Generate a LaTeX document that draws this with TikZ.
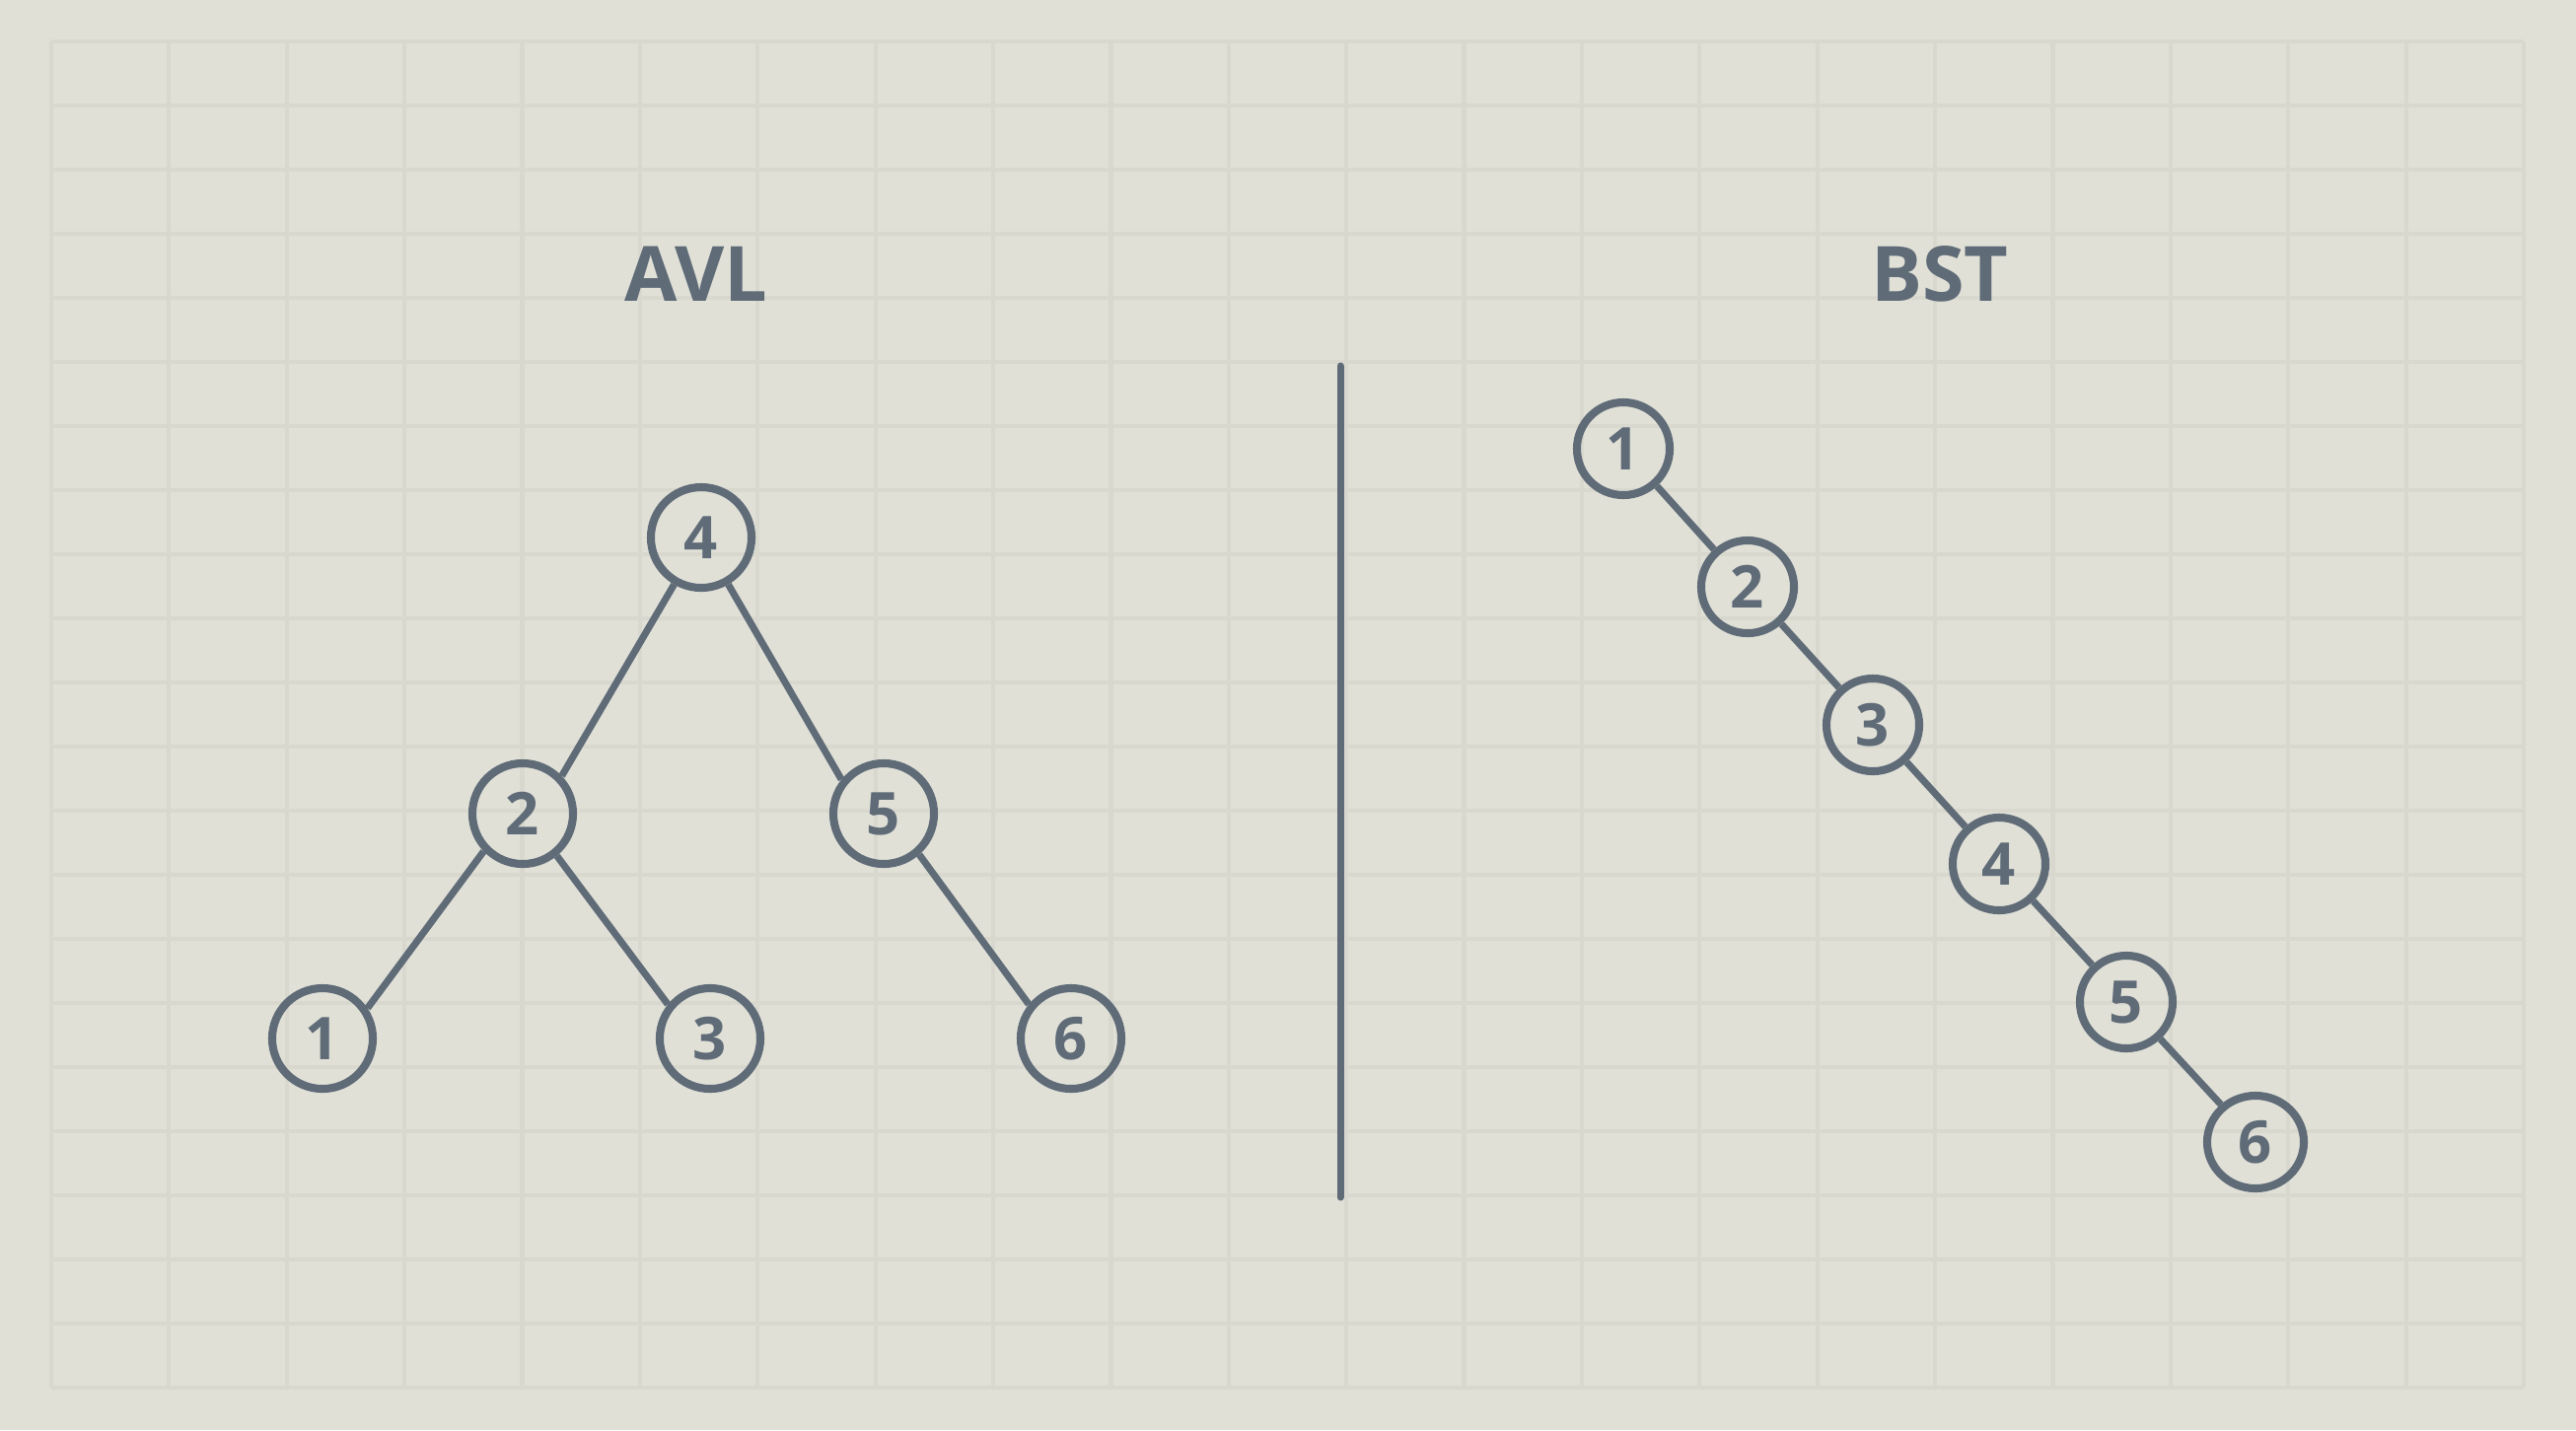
\documentclass[tikz,border=0pt]{standalone}
\usepackage{fontspec}
\setmainfont{Open Sans}
\usetikzlibrary{shapes.geometric}
\definecolor{bgc}{HTML}{E0E0D7}
\definecolor{gridc}{HTML}{D8D8CF}
\definecolor{inkc}{HTML}{5F6B77}
\tikzset{
  avlnode/.style={circle, draw=inkc, line width=2.3pt, minimum size=1.02cm, inner sep=0pt, text=inkc, font=\fontsize{17}{17}\selectfont\bfseries},
  bstnode/.style={circle, draw=inkc, line width=2.3pt, minimum size=0.94cm, inner sep=0pt, text=inkc, font=\fontsize{17}{17}\selectfont\bfseries},
  edgeline/.style={draw=inkc, line width=2pt},
  titletext/.style={text=inkc, font=\fontsize{22}{22}\selectfont\bfseries},
  gridline/.style={draw=gridc, line width=1.2pt}
}
\begin{document}
\begin{tikzpicture}[x=0.01cm,y=-0.01cm]
\fill[bgc] (0,0) rectangle (2612,1450);
\useasboundingbox (0,0) rectangle (2612,1450);
\foreach \i in {0,...,21} {
  \draw[gridline] ({52+\i*119.38},42) -- ({52+\i*119.38},1407);
  \draw[gridline] (52,{42+\i*65}) -- (2559,{42+\i*65});
}
\node[titletext] (tavl) at (706,278) {AVL};
\node[titletext] (tbst) at (1967,278) {BST};
\coordinate (dtop) at (1359,371);
\coordinate (dbot) at (1359,1214);
\draw[draw=inkc, line width=2pt, line cap=round] (dtop) -- (dbot);
% AVL
\node[avlnode] (a4) at (711,545) {4};
\node[avlnode] (a2) at (530,825) {2};
\node[avlnode] (a5) at (896,825) {5};
\node[avlnode] (a1) at (327,1053) {1};
\node[avlnode] (a3) at (720,1053) {3};
\node[avlnode] (a6) at (1086,1053) {6};
\draw[edgeline] (a4.240) -- (a2.44);
\draw[edgeline] (a4.300) -- (a5.141);
\draw[edgeline] (a2.224) -- (a1.34);
\draw[edgeline] (a2.309) -- (a3.141);
\draw[edgeline] (a5.311) -- (a6.141);
% BST
\node[bstnode] (b1) at (1646,455) {1};
\node[bstnode] (b2) at (1772,595) {2};
\node[bstnode] (b3) at (1899,735) {3};
\node[bstnode] (b4) at (2027,876) {4};
\node[bstnode] (b5) at (2156,1016) {5};
\node[bstnode, ellipse, minimum width=0.98cm, minimum height=0.94cm] (b6) at (2287,1158) {6};
\draw[edgeline] (b1) -- (b2);
\draw[edgeline] (b2) -- (b3);
\draw[edgeline] (b3) -- (b4);
\draw[edgeline] (b4) -- (b5);
\draw[edgeline] (b5) -- (b6);
\end{tikzpicture}
\end{document}
